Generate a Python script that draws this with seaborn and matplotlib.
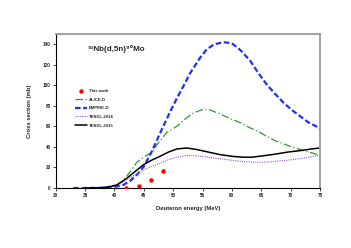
import numpy as np
import pandas as pd
import matplotlib
matplotlib.use("Agg")
import matplotlib.pyplot as plt
import seaborn as sns
from matplotlib.lines import Line2D

sns.set_style("ticks")
plt.rcParams['font.family'] = ['Liberation Sans', 'DejaVu Sans']

# Measured data (This work)
exp_E = [41.9, 44.1, 46.2, 48.2]
exp_xs = [0.3, 1.8, 8.0, 17.0]
exp_err = [1.0, 1.0, 1.5, 2.0]

# ALICE-D
alice_E = [38, 39, 40.5, 41.5, 42.7, 43.8, 45.5, 46.5, 47.2, 48.9, 50.6, 52, 53.4, 55, 56.3, 58, 60, 61.7, 63.1, 64.5, 66, 67.4, 70.2, 72.5, 75]
alice_xs = [0.5, 1.5, 3, 7, 16, 25, 32, 35, 42, 54, 60, 67, 73, 76.5, 76, 72, 67, 63, 58.5, 55, 50, 46, 40, 36, 32]

# EMPIRE-D
empire_E = [33, 36, 38, 40, 41.5, 42.7, 44, 45, 46.4, 47.5, 48.3, 49.8, 50.6, 52, 52.9, 54.6, 55.7, 57, 58.6, 60, 61.5, 63.1, 64.5, 65.9, 67.3, 68.8, 70.2, 71.6, 73, 74.7, 75]
empire_xs = [0, 0, 0.3, 1, 3, 7, 14, 21, 36, 50, 60, 78, 87, 102, 112, 127, 135, 140, 142, 141, 134, 124, 112, 101, 92, 83, 76, 70, 64, 59, 57]

# TENDL-2014
t14_E = [38, 40.4, 42.1, 43.5, 44.9, 46.3, 47.8, 49.2, 50.6, 52, 53.2, 54.5, 56, 58, 60.3, 62.5, 64.5, 66.5, 69, 71.5, 73.5, 75]
t14_xs = [0.2, 2, 8, 13, 17.6, 21, 24, 27.5, 30, 31.5, 31.7, 31, 30, 28.5, 26.8, 25.5, 25, 25.5, 26.8, 28.5, 30.5, 32]

# TENDL-2015
t15_E = [35, 38, 39, 40.4, 42.1, 43.5, 44.9, 46.3, 47.8, 49.2, 50.6, 52.3, 54, 56, 58, 60.3, 62, 63.4, 65.5, 67.4, 69.5, 71.9, 73.5, 75]
t15_xs = [0, 0.3, 1, 3, 9.5, 16, 22.5, 27, 31, 35, 38, 39, 37.5, 35, 32.5, 30.7, 30, 30, 31.5, 33, 35, 36.6, 38, 39]

fig = plt.figure(figsize=(3.51, 2.48), dpi=100)
ax = fig.add_axes([0.1587, 0.2419, 0.753, 0.621])

sns.lineplot(x=alice_E, y=alice_xs, ax=ax, color='#2e9a2e', lw=0.9, sort=False,
             linestyle=(0, (6, 2, 1, 2)))
sns.lineplot(x=empire_E, y=empire_xs, ax=ax, color='#1f2fff', lw=1.6, sort=False,
             linestyle=(0, (2.5, 1.2)))
sns.lineplot(x=t14_E, y=t14_xs, ax=ax, color='#9b59d0', lw=0.8, sort=False,
             linestyle=(0, (1, 1)))
sns.lineplot(x=t15_E, y=t15_xs, ax=ax, color='black', lw=1.1, sort=False)

ax.errorbar(exp_E, exp_xs, yerr=exp_err, fmt='none', ecolor='red', elinewidth=0.6, capsize=0)
sns.scatterplot(x=exp_E, y=exp_xs, ax=ax, color='red', marker='o', s=8, edgecolor='red', linewidth=0.3, zorder=5)

ax.set_xlim(30, 75)
ax.set_ylim(0, 150)
ax.set_xticks(range(30, 76, 5))
ax.set_yticks(range(0, 141, 20))
ax.tick_params(labelsize=3.3, length=2, width=0.6, pad=1.5, direction='out')
for lab in ax.get_xticklabels() + ax.get_yticklabels():
    lab.set_fontweight('bold')

for s in ['left', 'bottom']:
    ax.spines[s].set_color('black')
    ax.spines[s].set_linewidth(0.8)
for s in ['top', 'right']:
    ax.spines[s].set_visible(True)
    ax.spines[s].set_color('#999999')
    ax.spines[s].set_linewidth(1.3)

ax.set_xlabel('Deuteron energy (MeV)', fontsize=4.2, fontweight='bold', labelpad=6)
ax.set_ylabel('Cross section (mb)', fontsize=4.2, fontweight='bold', labelpad=8)

ax.text(0.122, 0.903, '⁹³Nb(d,5n)⁹⁰Mo', transform=ax.transAxes,
        fontsize=5.8, fontweight='bold', va='center', ha='left',
        family=['Liberation Sans', 'DejaVu Sans'])

handles = [
    Line2D([], [], color='red', marker='o', markersize=2.2, linestyle='none'),
    Line2D([], [], color='#2e9a2e', lw=0.9, linestyle=(0, (6, 2, 1, 2))),
    Line2D([], [], color='#1f2fff', lw=1.6, linestyle=(0, (2.5, 1.2))),
    Line2D([], [], color='#9b59d0', lw=0.8, linestyle=(0, (1, 1))),
    Line2D([], [], color='black', lw=1.1),
]
labels = ['This work', 'ALICE-D', 'EMPIRE-D', 'TENDL-2014', 'TENDL-2015']
leg = ax.legend(handles, labels, loc='upper left', bbox_to_anchor=(0.06, 0.66),
                frameon=False, prop={'size': 3.1, 'weight': 'bold'},
                handlelength=3.0, labelspacing=1.05, handletextpad=0.4, borderpad=0.2)

fig.savefig('out.png', dpi=100)
